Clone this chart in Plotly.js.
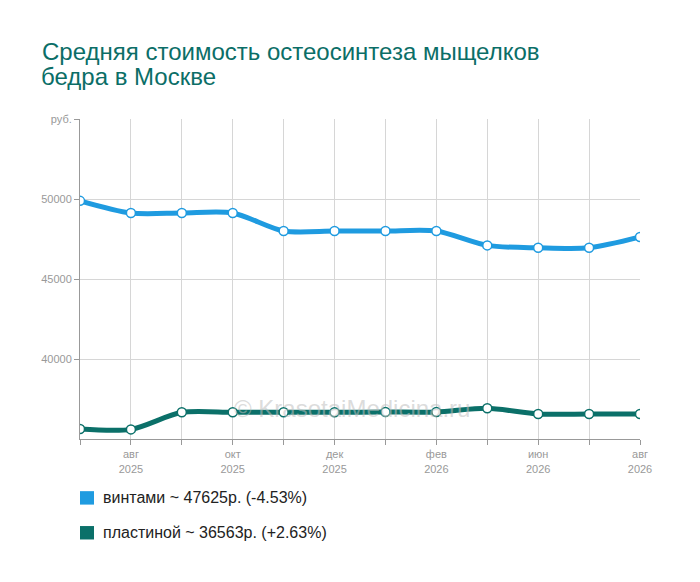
<!DOCTYPE html>
<html>
<head>
<meta charset="utf-8">
<script src="https://cdn.plot.ly/plotly-3.0.1.min.js"></script>
<style>html,body{margin:0;padding:0;background:#fff;}#chart{width:700px;height:582px;}</style>
</head>
<body>
<div id="chart"></div>
<script>
const periods = [0,1,2,3,4,5,6,7,8,9,10,11];
const tickPositions = [1,3,5,7,9,11];
const tickLabels = ["авг<br>2025","окт<br>2025","дек<br>2025","фев<br>2026","июн<br>2026","авг<br>2026"];
const seriesNames = ["винтами","пластиной"];
const vintami = [49885,49125,49125,49125,48000,48000,48000,48000,47100,46950,46950,47625];
const plastinoy = [35626,35600,36667,36667,36667,36667,36688,36688,36917,36563,36563,36563];
const colors = ["#1f9be0","#0b7069"];
const titleLine1 = "Средняя стоимость остеосинтеза мыщелков";
const titleLine2 = "бедра в Москве";
const yTicks = [40000,45000,50000];

const FONT = '"Liberation Sans", Arial, sans-serif';
const allSeries = [vintami, plastinoy];
const traces = allSeries.map((vals,i)=>({
  x: periods, y: vals, type:'scatter', mode:'lines+markers', name: seriesNames[i],
  line:{color:colors[i], width:5, shape:'spline', smoothing:0.8},
  marker:{size:9, color:'#fff', line:{color:colors[i], width:1.5}},
  showlegend:false, hoverinfo:'skip'
}));
traces.push({x:[0], y:[55000], yaxis:'y2', mode:'markers', marker:{opacity:0}, showlegend:false, hoverinfo:'skip'});

const gridTicktext = periods.map(p=>{const k=tickPositions.indexOf(p);return k>=0?tickLabels[k]:"";});

const shapes = [], annotations = [];
allSeries.forEach((vals,i)=>{
  const last = vals[vals.length-1], first = vals[0];
  const pct = (last-first)/first*100;
  const pctTxt = (pct>=0?"+":"")+pct.toFixed(2)+"%";
  const yc = -0.184 - i*0.109;
  shapes.push({type:'rect', xref:'paper', yref:'paper', x0:0, x1:0.025, y0:yc-0.021, y1:yc+0.021,
    fillcolor:colors[i], line:{width:0}});
  annotations.push({xref:'paper', yref:'paper', x:(101-80)/560, y:yc, xanchor:'left', yanchor:'middle',
    text: seriesNames[i]+" ~ "+last+"р. ("+pctTxt+")", showarrow:false,
    font:{family:FONT, size:16, color:'#222'}});
});
annotations.push({xref:'x', yref:'paper', x:5.34, y:0.095, xanchor:'center', yanchor:'middle',
  text:"© KrasotaiMedicina.ru", showarrow:false,
  font:{family:FONT, size:24, color:'rgba(190,190,190,0.55)'}});
annotations.push({xref:'paper', yref:'paper', x:-41/560, y:1+(119-76)/320, xanchor:'left', yanchor:'middle',
  text:titleLine2, showarrow:false, font:{family:FONT, size:24, color:'#0b6e67'}});

const layout = {
  width:700, height:582,
  margin:{l:80, r:60, t:119, b:143},
  paper_bgcolor:'#fff', plot_bgcolor:'#fff',
  title:{text:titleLine1, xref:'container', yref:'container', x:42/700, y:1-52/582, xanchor:'left', yanchor:'middle',
    font:{family:FONT, size:24, color:'#0b6e67'}},
  xaxis:{range:[0,11], tickvals:periods, ticktext:gridTicktext, showgrid:true, gridcolor:'#d6d6d6', gridwidth:1,
    showline:true, linecolor:'#999', linewidth:1, ticks:'outside', ticklen:5, tickcolor:'#999',
    tickfont:{family:FONT, size:11, color:'#999'}, zeroline:false, fixedrange:true},
  yaxis:{range:[35000,55000], tickvals:yTicks, ticktext:yTicks.map(String), showgrid:true, gridcolor:'#d6d6d6', gridwidth:1,
    showline:true, linecolor:'#999', linewidth:1, ticks:'outside', ticklen:5, tickcolor:'#999',
    tickfont:{family:FONT, size:11, color:'#999'}, zeroline:false, fixedrange:true},
  yaxis2:{range:[35000,55000], overlaying:'y', side:'left', tickvals:[55000], ticktext:['руб.'], showgrid:false,
    showline:false, ticks:'outside', ticklen:5, tickcolor:'#999', zeroline:false,
    tickfont:{family:FONT, size:11, color:'#999'}, fixedrange:true},
  shapes: shapes, annotations: annotations, showlegend:false
};
Plotly.newPlot('chart', traces, layout, {displayModeBar:false, staticPlot:true});
</script>
</body>
</html>
